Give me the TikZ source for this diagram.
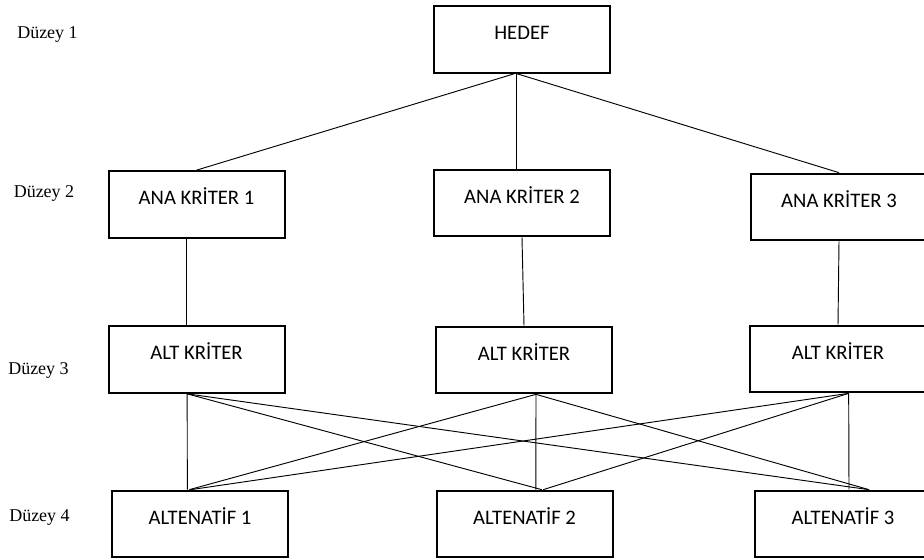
\documentclass[tikz,border=0pt]{standalone}
\usepackage{fontspec}
\setmainfont{Liberation Serif}
\newfontfamily\boxfont{Carlito}
\usepackage{tikz}

\begin{document}
\begin{tikzpicture}[x=0.75pt, y=-0.75pt,
box_style/.style={rectangle,draw=black,line width=1.5pt,fill=white,minimum width=132pt,
  inner sep=0pt,text height=25pt,text depth=25pt,font=\boxfont\fontsize{15.5}{18}\selectfont},
level_style/.style={inner sep=0pt,font=\fontsize{13.5}{16}\selectfont},
edge_style/.style={draw=black, line width=0.7pt}]
\useasboundingbox (0,0) rectangle (924,560);

% levels
\node[level_style] (d1) at (47.5,35) {Düzey 1};
\node[level_style] (d2) at (44,193) {Düzey 2};
\node[level_style] (d3) at (38.5,370) {Düzey 3};
\node[level_style] (d4) at (39.5,518) {Düzey 4};

% boxes
\node[box_style] (hedef) at (522,39.5) {HEDEF};
\node[box_style] (ana1) at (196.5,204.5) {ANA KRİTER 1};
\node[box_style] (ana2) at (522,203) {ANA KRİTER 2};
\node[box_style] (ana3) at (839,207) {ANA KRİTER 3};
\node[box_style] (alt1) at (196.5,359.5) {ALT KRİTER};
\node[box_style] (alt2) at (524,360) {ALT KRİTER};
\node[box_style] (alt3) at (838,359) {ALT KRİTER};
\node[box_style] (alter1) at (200,524) {ALTENATİF 1};
\node[box_style] (alter2) at (524.5,524) {ALTENATİF 2};
\node[box_style] (alter3) at (843,524) {ALTENATİF 3};

\draw[edge_style] ([xshift=-6pt]hedef.south) -- (ana1.north);
\draw[edge_style] ([xshift=-4.5pt]hedef.south) -- ([xshift=-4.5pt]ana2.north);
\draw[edge_style] ([xshift=-3.5pt]hedef.south) -- (ana3.north);

\draw[edge_style] ([xshift=-7.5pt]ana1.south) -- ([xshift=-7.5pt]alt1.north);
\draw[edge_style] (ana2.south) -- (alt2.north);
\draw[edge_style] (ana3.south) -- (alt3.north);

% alt kriter -> alternatif
\foreach \a/\sa/\b/\sb in {alt1/-7/alter1/-9.5, alt1/-7/alter2/13, alt1/-7/alter3/19.5,
    alt2/9/alter1/-8, alt2/9/alter2/8.5, alt2/9/alter3/19.5,
    alt3/8/alter1/-7, alt3/8/alter2/14, alt3/8/alter3/4.5}
  \draw[edge_style] ([xshift=\sa pt]\a.south) -- ([xshift=\sb pt]\b.north);

\end{tikzpicture}
\end{document}
